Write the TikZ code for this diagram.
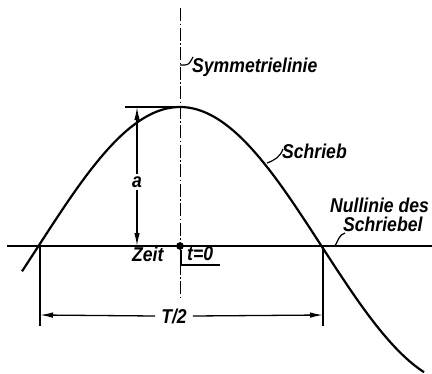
\documentclass[tikz,border=0pt]{standalone}
\usepackage{fontspec}
\newfontfamily\lettering[FakeStretch=0.88]{Liberation Sans}
\usetikzlibrary{arrows.meta}
\begin{document}
\begin{tikzpicture}[x=1pt,y=-1pt,
  lab/.style={inner sep=0pt,font=\lettering\bfseries\itshape\fontsize{20}{20}\selectfont},
  thick line/.style={line width=2pt},
  thin line/.style={line width=1.3pt},
  symline/.style={line width=1pt,dash pattern=on 13pt off 2.5pt on 1.5pt off 2.5pt},
  dim/.style={line width=1.3pt,-{Latex[length=13pt,width=5.5pt]}},
  leader/.style={line width=1.2pt}]
\useasboundingbox (0,0) rectangle (432,373);
% coordinates
\coordinate (symtop) at (180,8);
\coordinate (symbot) at (180,298);
\coordinate (blL) at (7,246);
\coordinate (blR) at (432,246);
\coordinate (peak) at (180,107);
\coordinate (peakL) at (125,107);
\coordinate (zL) at (40,246);
\coordinate (zR) at (323,246);
\coordinate (extL) at (40,326);
\coordinate (extR) at (323,326);
\coordinate (aTop) at (137,107);
\coordinate (aBot) at (137,246);
\coordinate (o) at (180,246);
% symmetry line
\draw[symline] (symtop) -- (symbot);
% base line
\draw[thick line] (blL) -- (blR);
% curve
\draw[line width=2.2pt] plot[domain=22:424,samples=120,smooth] (\x,{246-139*cos((\x-180)/283*180)});
% peak line
\draw[thin line] (peakL) -- (peak);
% extension lines
\draw[thin line] (zL) -- (extL);
\draw[thin line] (zR) -- (extR);
% labels
\node[lab,anchor=base west] (sym) at (192,72) {Symmetrielinie};
\node[lab,anchor=base west] (schrieb) at (282,158) {Schrieb};
\node[lab,anchor=base west] (null1) at (330,212) {Nullinie des};
\node[lab,anchor=base west] (null2) at (343,231) {Schriebel};
\node[lab,anchor=base west] (zeit) at (132,261) {Zeit};
\node[lab,anchor=base west] (t0) at (187,260) {t=0};
\node[lab] (a) at (137,182) {a};
\node[lab] (T) at (174,316) {T/2};
% dimension a
\draw[dim] (a.north) ++(0,-2) -- (aTop);
\draw[dim] (a.south) ++(0,2) -- (aBot);
% dimension T/2
\coordinate (tL) at (40,315);
\coordinate (tR) at (323,315);
\draw[dim] (T.west) ++(-6,0) -- (tL);
\draw[dim] (T.east) ++(6,0) -- (tR);
% origin dot
\fill (o) circle (3.8pt);
% t=0 bracket
\draw[thin line] (181,250) -- (181,265) -- (220,265);
% leaders
\draw[leader] (180,65) -- (185,65) to[out=0,in=240] (193,57);
\draw[leader] (267,163) to[out=20,in=250] (283,149);
\draw[leader] (335,246) -- (339,238) to[out=60,in=200] (345,233);
\end{tikzpicture}
\end{document}
